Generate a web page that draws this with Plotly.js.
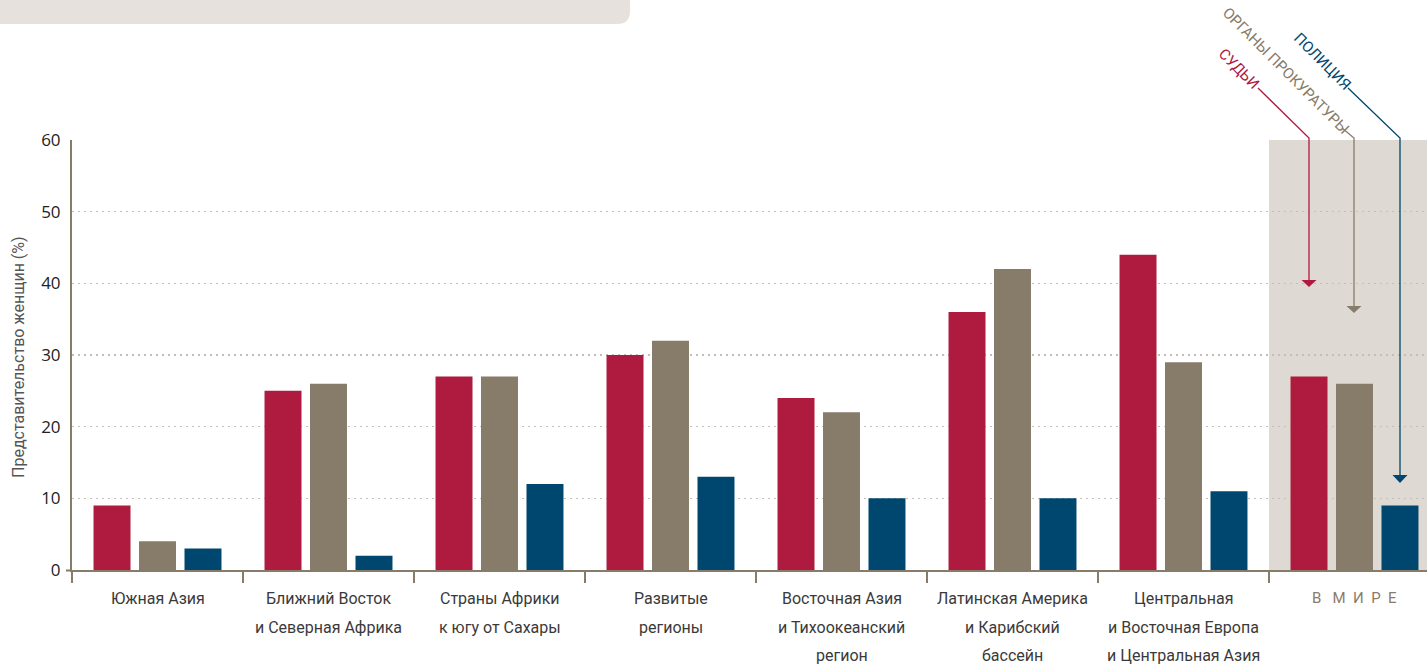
<!DOCTYPE html>
<html>
<head>
<meta charset="utf-8">
<script src="https://cdn.plot.ly/plotly-3.0.1.min.js"></script>
<style>
html, body { margin: 0; padding: 0; overflow: hidden; background: #ffffff; }
#chart { width: 1427px; height: 667px; }
</style>
</head>
<body>
<div id="chart"></div>
<script>
// ---- data ----
const categories = [
  "Южная Азия",
  "Ближний Восток<br>и Северная Африка",
  "Страны Африки<br>к югу от Сахары",
  "Развитые<br>регионы",
  "Восточная Азия<br>и Тихоокеанский<br>регион",
  "Латинская Америка<br>и Карибский<br>бассейн",
  "Центральная<br>и Восточная Европа<br>и Центральная Азия",
  "В МИРЕ"
];
const judges      = [9, 25, 27, 30, 24, 36, 44, 27];
const prosecutors = [4, 26, 27, 32, 22, 42, 29, 26];
const police      = [3,  2, 12, 13, 10, 10, 11,  9];
const seriesNames = ["СУДЬИ", "ОРГАНЫ ПРОКУРАТУРЫ", "ПОЛИЦИЯ"];
const yTicks = [0, 10, 20, 30, 40, 50, 60];
const yTitle = "Представительство женщин (%)";

// ---- style ----
const RED = "#AF1B3F", GRAY = "#877B6A", BLUE = "#00476F";
const NARROW = "Roboto, 'Liberation Sans Narrow', sans-serif";
const W = 1427, H = 667, ML = 72, MT = 140, MB = 97;
const PW = W - ML, PH = H - MT - MB;
const px = x => (x - ML) / PW;
const py = y => (H - MB - y) / PH;

const colors = [RED, GRAY, BLUE];
const values = [judges, prosecutors, police];
const traces = values.map((v, i) => ({
  type: "bar",
  x: categories,
  y: v,
  name: seriesNames[i],
  marker: { color: colors[i], line: { width: 0 } },
  hoverinfo: "y"
}));

const annotations = [];
// category labels, one annotation per line for custom line spacing
const lineY = [598, 627, 655];
categories.forEach((c, i) => {
  const last = i === categories.length - 1;
  const lines = last ? ["В\u00A0\u00A0\u00A0М\u00A0\u00A0И\u00A0\u00A0Р\u00A0\u00A0Е"] : c.split("<br>");
  lines.forEach((t, k) => {
    annotations.push({
      xref: "x", yref: "paper", x: i, y: py(lineY[k]),
      text: t, showarrow: false, xanchor: "center", yanchor: "middle",
      font: { family: NARROW, size: last ? 15 : 16, color: last ? "#8A7B6A" : "#3a3a3a" }
    });
  });
});
// y axis title
annotations.push({
  xref: "paper", yref: "paper", x: px(18), y: py(357),
  text: yTitle, textangle: -90, showarrow: false,
  xanchor: "center", yanchor: "middle",
  font: { family: NARROW, size: 16, color: "#555555" }
});
// rotated series labels
const labelPos = [[1239, 69], [1286, 71], [1322, 61]];
seriesNames.forEach((n, i) => {
  annotations.push({
    xref: "paper", yref: "paper", x: px(labelPos[i][0]), y: py(labelPos[i][1]),
    text: n, textangle: 45, showarrow: false,
    xanchor: "center", yanchor: "middle",
    font: { family: NARROW, size: 15, color: colors[i] }
  });
});

const P = (x, y) => px(x) + "," + py(y);
const shapes = [
  // world panel
  { type: "rect", xref: "x", yref: "paper", x0: 6.5, x1: 7.6, y0: 0, y1: 1,
    fillcolor: "#DEDAD3", line: { width: 0 }, layer: "below" },
  // header box (cut off at the top)
  { type: "path", xref: "paper", yref: "paper",
    path: "M " + P(0, -2) + " L " + P(630, -2) + " L " + P(630, 11) +
          " Q " + P(630, 24) + " " + P(617, 24) + " L " + P(0, 24) + " Z",
    fillcolor: "#E6E1DC", line: { width: 0 } },
  // small extension of the x axis line to the left
  { type: "line", xref: "paper", yref: "paper", x0: px(66), x1: px(72), y0: py(570.5), y1: py(570.5),
    line: { color: GRAY, width: 2 } }
];
// leader lines with arrowheads
const leaders = [
  { c: RED,  pts: [[1258, 88], [1309, 138], [1309, 280]], tip: 287 },
  { c: GRAY, pts: [[1342, 128], [1354, 138], [1354, 306]], tip: 313 },
  { c: BLUE, pts: [[1348, 88], [1400, 138], [1400, 475]], tip: 483 }
];
leaders.forEach(L => {
  shapes.push({ type: "path", xref: "paper", yref: "paper",
    path: "M " + L.pts.map(p => P(p[0], p[1])).join(" L "),
    line: { color: L.c, width: 1.3 }, layer: "above" });
  const x = L.pts[2][0], yb = L.pts[2][1];
  shapes.push({ type: "path", xref: "paper", yref: "paper",
    path: "M " + P(x - 7.5, yb) + " L " + P(x + 7.5, yb) + " L " + P(x, L.tip) + " Z",
    fillcolor: L.c, line: { width: 0 }, layer: "above" });
});

const layout = {
  width: W, height: H,
  margin: { l: ML, r: 0, t: MT, b: MB, pad: 0 },
  paper_bgcolor: "#ffffff", plot_bgcolor: "rgba(0,0,0,0)",
  showlegend: false,
  barmode: "group", bargap: 0.202, bargroupgap: 0.187,
  xaxis: {
    type: "category", range: [-0.5, 7.424], fixedrange: true,
    showgrid: false, zeroline: false,
    showline: true, linecolor: GRAY, linewidth: 2,
    ticks: "outside", tickson: "boundaries", ticklen: 11, tickwidth: 2, tickcolor: GRAY,
    showticklabels: false
  },
  yaxis: {
    range: [0, 60], fixedrange: true,
    tickvals: yTicks, ticktext: yTicks.map(String),
    showgrid: true, gridcolor: "#C4BEB6", gridwidth: 1.5, griddash: "2px,4px",
    zeroline: false,
    showline: true, linecolor: GRAY, linewidth: 2,
    ticks: "", ticklabelstandoff: 6,
    tickfont: { family: "'Open Sans', sans-serif", size: 17, color: "#222222" }
  },
  annotations: annotations,
  shapes: shapes
};

Plotly.newPlot("chart", traces, layout, { displayModeBar: false, staticPlot: true });
</script>
</body>
</html>
